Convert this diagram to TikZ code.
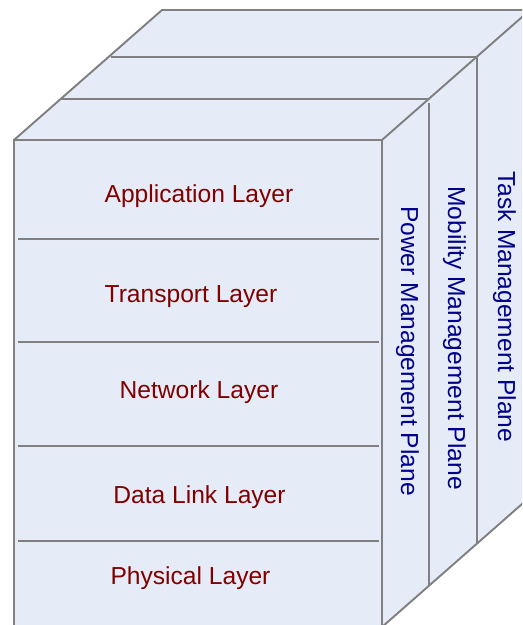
\documentclass[tikz,border=0pt]{standalone}
\usepackage{fontspec}
\setmainfont{Liberation Sans}
\definecolor{facefill}{RGB}{230,236,247}
\definecolor{edgegray}{RGB}{128,128,128}
\definecolor{layerred}{RGB}{128,0,0}
\definecolor{planeblue}{RGB}{0,0,140}
\begin{document}
\begin{tikzpicture}[x=0.02cm, y=-0.02cm,
  edge/.style={draw=edgegray, line width=1.1pt},
  layerlabel/.style={text=layerred, font=\fontsize{14}{16}\selectfont, anchor=base},
  planelabel/.style={text=planeblue, font=\fontsize{14}{16}\selectfont, anchor=base, rotate=-90}]
% Set the picture size (pixels of the reference)
\useasboundingbox (0,0) rectangle (522,625);
\clip (0,0) rectangle (522,625);

% Faces of the cube
\fill[facefill] (14,140) -- (162,10) -- (530,10) -- (530,497) -- (382,627) -- (14,627) -- cycle;
\draw[edge] (14,627) -- (14,140) -- (382,140) -- (382,627) -- cycle;
\draw[edge] (14,140) -- (162,10) -- (530,10);
\draw[edge] (382,140) -- (530,10);
\draw[edge] (382,627) -- (530,497);

% Layers on the front face
\draw[edge] (18,239) -- (379,239);
\draw[edge] (18,342) -- (379,342);
\draw[edge] (18,446) -- (379,446);
\draw[edge] (18,541) -- (379,541);

% Planes going back
\draw[edge] (60,99) -- (429,99);
\draw[edge] (429,103) -- (429,585);
\draw[edge] (111,57) -- (477,57) -- (477,544);

% Layer names
\node[layerlabel] (app) at (199,202) {Application Layer};
\node[layerlabel] (trans) at (191,302) {Transport Layer};
\node[layerlabel] (net) at (199,398) {Network Layer};
\node[layerlabel] (dlink) at (199.5,503) {Data Link Layer};
\node[layerlabel] (phys) at (190.5,584) {Physical Layer};

% Plane names
\node[planelabel] (power) at (401,351) {Power Management Plane};
\node[planelabel] (mobility) at (448,338) {Mobility Management Plane};
\node[planelabel] (task) at (498,307) {Task Management Plane};
\end{tikzpicture}
\end{document}
